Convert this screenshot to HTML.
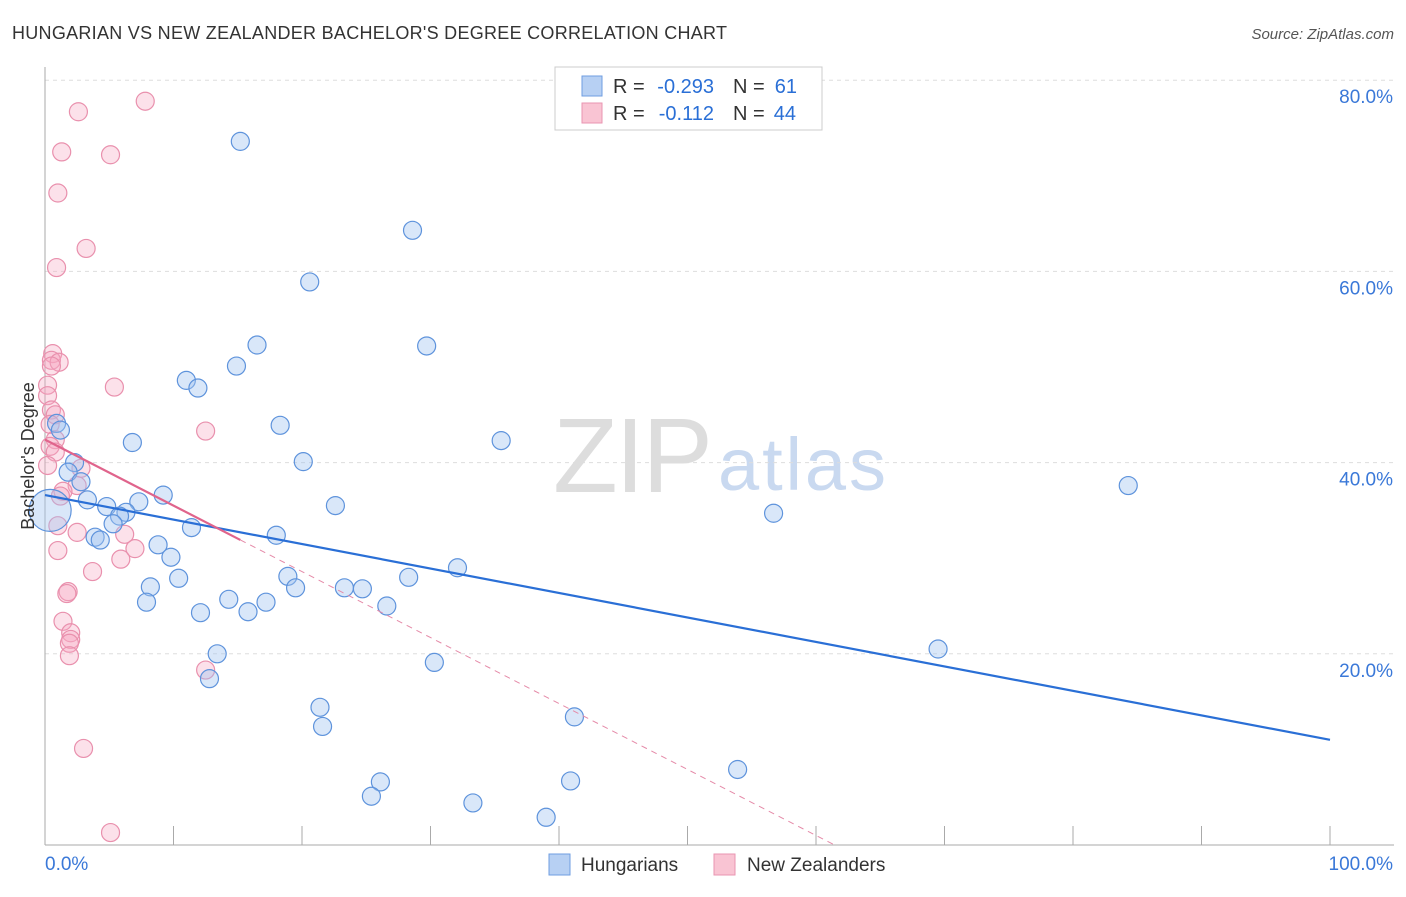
<!DOCTYPE html>
<html><head><meta charset="utf-8"><style>
body{margin:0;background:#fff;font-family:"Liberation Sans",sans-serif;}
svg text{font-family:"Liberation Sans",sans-serif;}
</style></head><body>
<svg id="c" width="1406" height="892" xmlns="http://www.w3.org/2000/svg">
<text x="12" y="39" font-size="18" fill="#333" textLength="715">HUNGARIAN VS NEW ZEALANDER BACHELOR'S DEGREE CORRELATION CHART</text>
<text x="1394" y="39" font-size="15" fill="#555" font-style="italic" text-anchor="end">Source: ZipAtlas.com</text>
<text x="553" y="492" font-size="106" fill="#ddd" font-family="Liberation Serif" textLength="160">ZIP</text>
<text x="718" y="490" font-size="74" fill="#c9d9f0" textLength="168">atlas</text>
<g id="grid"></g>
<g id="pts"></g>
<g id="lines"></g>
<text x="34" y="456" font-size="18" fill="#333" text-anchor="middle" transform="rotate(-90 34 456)">Bachelor's Degree</text>
<g>
<rect x="555" y="67" width="267" height="63" fill="#fff" stroke="#ccc"/>
<rect x="582" y="76" width="20" height="20" fill="#b7d0f3" stroke="#6f9ee0"/>
<rect x="582" y="103" width="20" height="20" fill="#f9c4d3" stroke="#e995b1"/>
<text x="613" y="93" font-size="20" fill="#333">R =</text>
<text x="714" y="93" font-size="20" fill="#2a6fd6" text-anchor="end">-0.293</text>
<text x="733" y="93" font-size="20" fill="#333">N =</text>
<text x="797" y="93" font-size="20" fill="#2a6fd6" text-anchor="end">61</text>
<text x="613" y="120" font-size="20" fill="#333">R =</text>
<text x="714" y="120" font-size="20" fill="#2a6fd6" text-anchor="end">-0.112</text>
<text x="733" y="120" font-size="20" fill="#333">N =</text>
<text x="796" y="120" font-size="20" fill="#2a6fd6" text-anchor="end">44</text>
</g>
<g>
<rect x="549" y="854" width="21" height="21" fill="#b7d0f3" stroke="#6f9ee0"/>
<text x="581" y="871" font-size="19" fill="#333">Hungarians</text>
<rect x="714" y="854" width="21" height="21" fill="#f9c4d3" stroke="#e995b1"/>
<text x="747" y="871" font-size="19" fill="#333">New Zealanders</text>
</g>
</svg>
<script>
const blueX=[15.2,28.6,20.6,16.5,29.7,14.9,11.0,11.9,18.3,6.8,35.5,0.9,1.2,20.1,2.3,1.8,2.8,9.2,3.3,7.3,4.8,22.6,6.3,5.8,5.3,11.4,3.9,4.3,18.0,8.8,9.8,32.1,18.9,28.3,10.4,8.2,19.5,23.3,24.7,7.9,14.3,17.2,26.6,12.1,15.8,13.4,30.3,69.5,12.8,21.4,41.2,21.6,53.9,26.1,40.9,25.4,33.3,39.0,56.7,84.3];
const blueY=[73.6,64.3,58.9,52.3,52.2,50.1,48.6,47.8,43.9,42.1,42.3,44.1,43.4,40.1,40.0,39.0,38.0,36.6,36.1,35.9,35.4,35.5,34.8,34.4,33.6,33.2,32.2,31.9,32.4,31.4,30.1,29.0,28.1,28.0,27.9,27.0,26.9,26.9,26.8,25.4,25.7,25.4,25.0,24.3,24.4,20.0,19.1,20.5,17.4,14.4,13.4,12.4,7.9,6.6,6.7,5.1,4.4,2.9,34.7,37.6];
const pinkX=[7.8,2.6,1.3,5.1,1.0,3.2,0.9,0.6,0.5,1.1,0.5,5.4,0.2,0.2,0.5,0.8,12.5,0.4,0.8,0.4,0.8,2.8,0.2,2.5,1.4,1.2,1.0,2.5,6.2,1.0,7.0,5.9,3.7,1.8,1.7,1.4,2.0,2.0,1.9,1.9,12.5,3.0,5.1];
const pinkY=[77.8,76.7,72.5,72.2,68.2,62.4,60.4,51.4,50.7,50.5,50.1,47.9,48.1,47.0,45.5,45.0,43.3,44.0,42.4,41.7,41.1,39.4,39.7,37.6,37.0,36.5,33.4,32.7,32.5,30.8,31.0,29.9,28.6,26.5,26.3,23.4,22.2,21.5,21.1,19.8,18.3,10.1,1.3];
const bigBlue=[0.4,35.0];
const blueTrend=[36.6,11.0];
const pinkTrend=[42.4,-0.69,15.2];
const yTicks=[20,40,60,80];
const xTickVals=[0,10,20,30,40,50,60,70,80,90,100];
const NS='http://www.w3.org/2000/svg';
const sx=v=>45+v*12.85, sy=v=>845-v*9.56;
function mk(t,a,p){const e=document.createElementNS(NS,t);for(const k in a)e.setAttribute(k,a[k]);p.appendChild(e);return e;}
const g=document.getElementById('grid'),P=document.getElementById('pts'),L=document.getElementById('lines');
yTicks.forEach(v=>{const l=mk('line',{x1:45,x2:1394,y1:sy(v),y2:sy(v),stroke:'#ddd','stroke-dasharray':'4,4'},g);


const t=mk('text',{x:1393,y:sy(v)+23,'font-size':19,fill:'#3a78d8','text-anchor':'end'},g);t.textContent=v.toFixed(1)+'%';

});
const ya=mk('line',{x1:45,x2:45,y1:67,y2:845,stroke:'#aaa'},g);


const xa=mk('line',{x1:45,x2:1394,y1:845,y2:845,stroke:'#aaa'},g);


xTickVals.forEach(v=>{const l=mk('line',{x1:sx(v),x2:sx(v),y1:826,y2:845,stroke:'#aaa'},g);

});
[[0,'start',45],[100,'end',1393]].forEach(([v,a,x])=>{const t=mk('text',{x:x,y:870,'font-size':19,fill:'#3a78d8','text-anchor':a},g);t.textContent=v.toFixed(1)+'%';

});
pinkX.forEach((x,i)=>{const c=mk('circle',{cx:sx(x),cy:sy(pinkY[i]),r:9,fill:'rgba(245,170,195,0.35)',stroke:'#e990ad','stroke-width':1.2},P);

});
blueX.forEach((x,i)=>{const c=mk('circle',{cx:sx(x),cy:sy(blueY[i]),r:9,fill:'rgba(160,195,240,0.4)',stroke:'#5e93dc','stroke-width':1.2},P);

});
const bb=mk('circle',{cx:sx(bigBlue[0]),cy:sy(bigBlue[1]),r:21,fill:'rgba(160,195,240,0.4)',stroke:'#5e93dc','stroke-width':1.2},P);


const bl=mk('line',{x1:sx(0),y1:sy(blueTrend[0]),x2:sx(100),y2:sy(blueTrend[1]),stroke:'#2a6fd6','stroke-width':2.2},L);


const pe=pinkTrend[2],pz=-pinkTrend[0]/pinkTrend[1];
const pd=mk('line',{x1:sx(pe),y1:sy(pinkTrend[0]+pinkTrend[1]*pe),x2:sx(pz),y2:sy(0),stroke:'#e58aa8','stroke-width':1,'stroke-dasharray':'6,5'},L);


const ps=mk('line',{x1:sx(0),y1:sy(pinkTrend[0]),x2:sx(pe),y2:sy(pinkTrend[0]+pinkTrend[1]*pe),stroke:'#e0648c','stroke-width':2.2},L);


</script>
</body></html>
